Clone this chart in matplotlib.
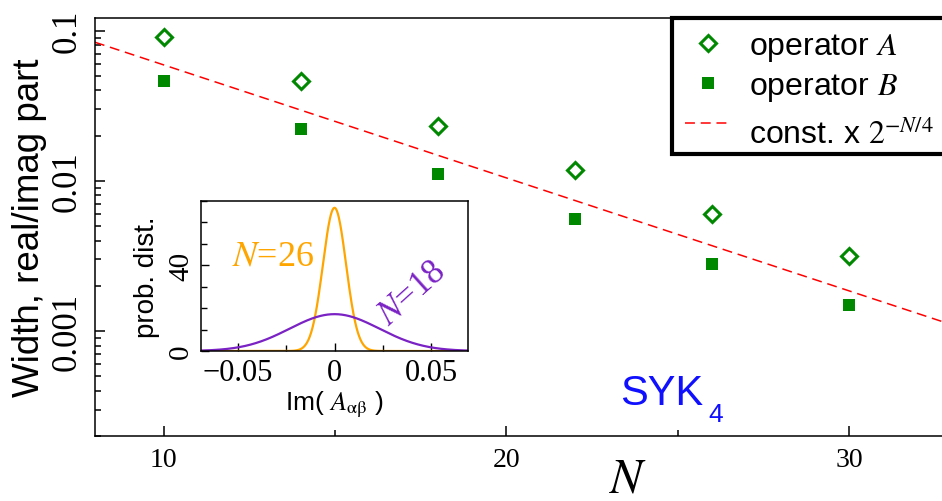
import numpy as np
import matplotlib
matplotlib.use('Agg')
import matplotlib.pyplot as plt
from matplotlib.ticker import MultipleLocator, LogLocator, NullFormatter, FixedLocator

plt.rcParams['font.family'] = ['Liberation Sans', 'DejaVu Sans']
plt.rcParams['mathtext.fontset'] = 'stix'

# widths vs system size
N_vals = [10, 14, 18, 22, 26, 30]
width_A = [0.0912, 0.0465, 0.0231, 0.01183, 0.00603, 0.00315]
width_B = [0.0461, 0.0222, 0.01114, 0.00558, 0.0028, 0.00148]
fit_const = 0.335

# inset: distribution widths of Im(A_ab) for two sizes
inset_N = [26, 18]
inset_sigma = [0.00597, 0.0232]
inset_colors = ['#ffa500', '#7a22c4']

green = '#008800'
serif = 'Liberation Serif'

fig = plt.figure(figsize=(9.42, 5.02), dpi=100)
ax = fig.add_axes([0.1008, 0.1295, 0.9098, 0.8327])

ax.semilogy(N_vals, width_A, 'D', ms=8.2, mfc='white', mec=green, mew=2.2,
            label='operator $A$', zorder=3)
ax.semilogy(N_vals, width_B, 's', ms=8, color=green, mew=0,
            label='operator $B$', zorder=3)
N_line = np.linspace(8, 33, 100)
ax.semilogy(N_line, fit_const * 2.0 ** (-N_line / 4), '--', color='red',
            lw=1.1, dashes=(6.5, 3.8), label='const. x $2^{-N/4}$   ')

ax.set_xlim(8, 33)
ax.set_ylim(2e-4, 0.1215)
ax.xaxis.set_major_locator(FixedLocator([10, 20, 30]))
ax.xaxis.set_minor_locator(FixedLocator([15, 25]))
ax.yaxis.set_major_locator(FixedLocator([1e-3, 1e-2, 1e-1]))
ax.yaxis.set_minor_locator(LogLocator(base=10, subs=np.arange(2, 10)))
ax.yaxis.set_minor_formatter(NullFormatter())
ax.set_yticklabels(['0.001', '0.01', '0.1'])

ax.tick_params(which='both', direction='in', width=1.1)
ax.tick_params(which='major', length=7)
ax.tick_params(which='minor', length=4.5)
ax.tick_params(axis='x', labelsize=20, pad=8)
ax.tick_params(axis='y', labelsize=25, pad=8, labelrotation=90)
for lab in ax.get_xticklabels() + ax.get_yticklabels():
    lab.set_fontfamily(serif)
for lab in ax.get_yticklabels():
    lab.set_va('center')
for s in ax.spines.values():
    s.set_linewidth(1.1)

ax.set_ylabel('Width, real/imag part', fontsize=26.5)
ax.yaxis.set_label_coords(-0.056, 0.5)
ax.set_xlabel('$N$', fontsize=35)
ax.xaxis.set_label_coords(0.622, -0.05)

leg = ax.legend(loc='upper left', bbox_to_anchor=(672 / 942, 1 - 19 / 502),
                bbox_transform=fig.transFigure, fontsize=23, numpoints=1,
                handlelength=1.45, handletextpad=0.55, borderpad=0.4,
                labelspacing=0.25, fancybox=False, framealpha=1,
                borderaxespad=0)
leg.get_frame().set_edgecolor('black')
leg.get_frame().set_linewidth(3)
# push the last row down a little, its superscript needs the room
leg.get_texts()[2].set_y(-9)

fig.text(620 / 942, 1 - 405 / 502, 'SYK', color='#1010ff',
         fontsize=30, ha='left', va='baseline')
fig.text(708 / 942, 1 - 422 / 502, '4', color='#1010ff',
         fontsize=19, ha='left', va='baseline')

# inset with the two distributions
ins = fig.add_axes([0.2134, 0.2988, 0.2834, 0.2988])
x = np.linspace(-0.069, 0.069, 600)
for sig, c in zip(inset_sigma, inset_colors):
    ins.plot(x, np.exp(-x ** 2 / (2 * sig ** 2)) / (np.sqrt(2 * np.pi) * sig),
             color=c, lw=1.6)
ins.set_xlim(-0.069, 0.069)
ins.set_ylim(0, 70)
ins.set_xticks([-0.05, 0, 0.05], ['\u22120.05', '0', '0.05'])
ins.xaxis.set_minor_locator(MultipleLocator(0.025))
ins.set_yticks([0, 40], ['0', '40'])
ins.yaxis.set_minor_locator(MultipleLocator(10))
ins.tick_params(which='both', direction='in', width=1.0)
ins.tick_params(which='major', length=6)
ins.tick_params(which='minor', length=4)
ins.tick_params(axis='x', labelsize=22, pad=5)
ins.tick_params(axis='y', labelsize=21, pad=5, labelrotation=90)
for lab in ins.get_xticklabels() + ins.get_yticklabels():
    lab.set_fontfamily(serif)
for lab in ins.get_yticklabels():
    lab.set_va('center')
for s in ins.spines.values():
    s.set_linewidth(1.1)
ins.set_ylabel('prob. dist.', fontsize=20)
ins.yaxis.set_label_coords(-0.154, 0.5)
ins.set_xlabel(r'Im( $A_{\mathrm{αβ}}$ )', fontsize=19, labelpad=1)

ins.text(0.116, 0.58, '$N$=26', transform=ins.transAxes, color=inset_colors[0],
         fontsize=26, fontfamily=serif, ha='left', va='baseline')
ins.text(0.79, 0.393, '$N$=18', transform=ins.transAxes, color=inset_colors[1],
         fontsize=25, fontfamily=serif, ha='center', va='center', rotation=42)

fig.savefig('out.png', dpi=100)
